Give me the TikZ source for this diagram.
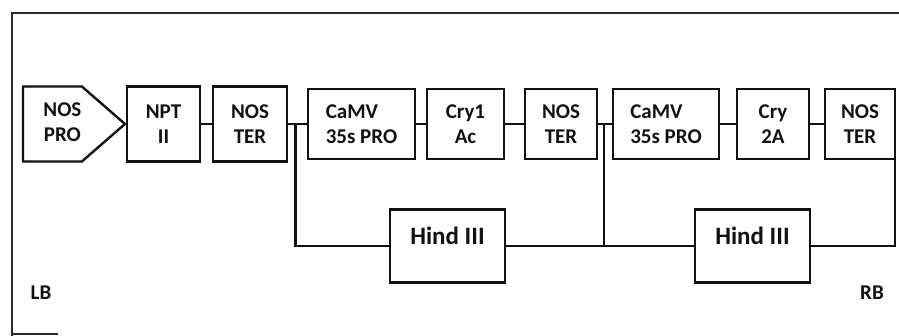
\documentclass[tikz,border=0pt]{standalone}
\usepackage{fontspec}
\setmainfont{Carlito}
\usepackage{tikz}
\usetikzlibrary{positioning,shapes.symbols,calc}
\definecolor{inkblack}{HTML}{111111}
\definecolor{framegray}{HTML}{2B2B2B}

\begin{document}
\begin{tikzpicture}[
  x=1pt, y=-1pt,
  every node/.style={font=\fontsize{21}{25}\selectfont\bfseries, text=inkblack},
  box/.style={draw=inkblack, line width=2.4pt, minimum height=70pt, inner sep=0pt,
              outer sep=0pt, align=center},
  tallbox/.style={box, minimum height=75pt},
  pro/.style={box, shape=signal, signal to=east, signal pointer angle=82,
              minimum height=75pt, minimum width=102pt},
  site/.style={box, minimum width=115pt, minimum height=73pt,
               font=\fontsize{25}{28}\selectfont\bfseries, text height=17pt, text depth=20pt},
  wire/.style={line width=2.2pt, color=inkblack},
  edge/.style={line width=2pt, color=framegray},
]
  \useasboundingbox (0,0) rectangle (899,336);

  % cassette, left to right
  \node[pro, anchor=west] (nospro) at (23,124)
    {\begin{tabular}{@{\hspace{20pt}}c@{}}NOS\\PRO\end{tabular}};
  \node[tallbox, minimum width=73pt, right=2pt of nospro] (npt) {NPT\\II};
  \node[tallbox, minimum width=74pt, right=13pt of npt] (noster1) {NOS\\TER};
  \node[box, minimum width=107pt, align=left, right=21pt of noster1] (camv1) {CaMV\\35s PRO};
  \node[box, minimum width=77pt, right=12pt of camv1] (cry1) {Cry1\\Ac};
  \node[box, minimum width=72pt, right=21pt of cry1] (noster2) {NOS\\TER};
  \node[box, minimum width=106pt, align=left, right=16pt of noster2] (camv2) {CaMV\\35s PRO};
  \node[box, minimum width=72pt, right=18pt of camv2] (cry2) {Cry\\2A};
  \node[box, minimum width=70pt, right=16pt of cry2] (noster3) {NOS\\TER};

  \node[site] (hind1) at (447.5,246) {Hind III};
  \node[site] (hind2) at (752.5,246) {Hind III};

  \node (lb) at (41,293) {LB};
  \node (rb) at (872,293) {RB};

  \coordinate (junc1) at ($(noster1.east)!0.4!(camv1.west)$);
  \coordinate (junc2) at ($(noster2.east)!0.45!(camv2.west)$);

  \draw[wire] (npt) -- (noster1);
  \draw[wire] (noster1) -- (camv1);
  \draw[wire] (camv1) -- (cry1);
  \draw[wire] (cry1) -- (noster2);
  \draw[wire] (noster2) -- (camv2);
  \draw[wire] (camv2) -- (cry2);
  \draw[wire] (cry2) -- (noster3);
  \draw[wire] (junc1) |- (hind1.west);
  \draw[wire] (hind1) -- (hind2);
  \draw[wire] (junc2) -- (junc2 |- hind2.west);
  \draw[wire] (hind2.east) -| (noster3.south east);

  % border of the plasmid frame
  \draw[edge] (899,13) -- (12,13) -- (12,336);
  \draw[edge] (12,334) -- (58,334);
\end{tikzpicture}
\end{document}
